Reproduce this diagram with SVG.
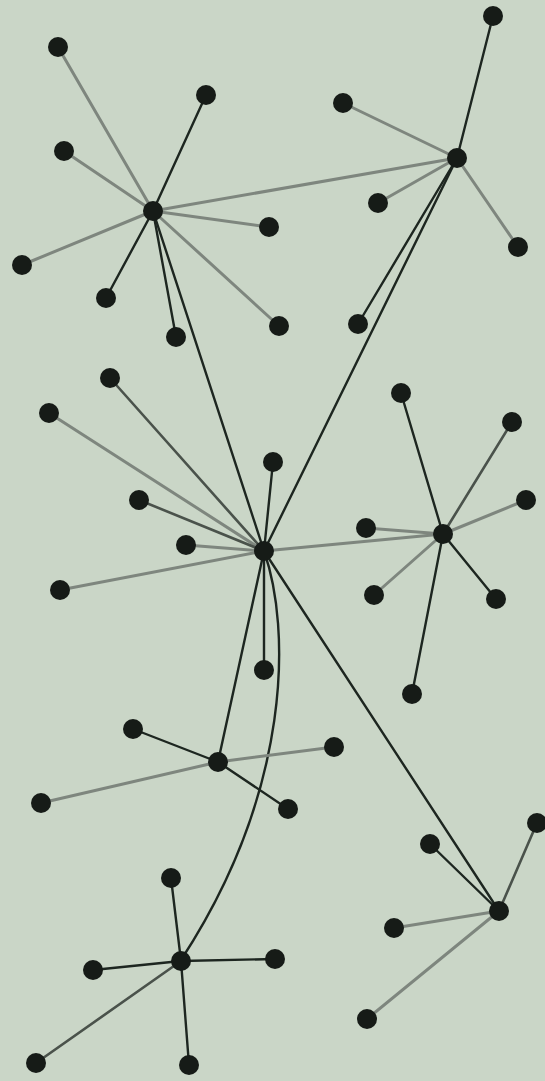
<svg xmlns="http://www.w3.org/2000/svg" width="545" height="1081" viewBox="0 0 545 1081">
<style>
.n{fill:#161b17}
.b{stroke:#1d2620;stroke-width:2.4;fill:none;stroke-linecap:round}
.m{stroke:#4a524b;stroke-width:2.6;fill:none;stroke-linecap:round}
.g{stroke:#7e867e;stroke-width:3;fill:none;stroke-linecap:round}
</style>
<rect width="545" height="1081" fill="#cad6c7"/>
<g id="connectors">
<line class="g" x1="153" y1="211" x2="58" y2="47"/>
<line class="b" x1="153" y1="211" x2="206" y2="95"/>
<line class="g" x1="153" y1="211" x2="64" y2="151"/>
<line class="g" x1="153" y1="211" x2="22" y2="265"/>
<line class="b" x1="153" y1="211" x2="106" y2="298"/>
<line class="b" x1="153" y1="211" x2="176" y2="337"/>
<line class="g" x1="153" y1="211" x2="269" y2="227"/>
<line class="g" x1="153" y1="211" x2="279" y2="326"/>
<line class="g" x1="153" y1="211" x2="457" y2="158"/>
<line class="b" x1="153" y1="211" x2="264" y2="551"/>
<line class="b" x1="457" y1="158" x2="493" y2="16"/>
<line class="g" x1="457" y1="158" x2="343" y2="103"/>
<line class="g" x1="457" y1="158" x2="378" y2="203"/>
<line class="g" x1="457" y1="158" x2="518" y2="247"/>
<line class="b" x1="457" y1="158" x2="358" y2="324"/>
<line class="b" x1="457" y1="158" x2="264" y2="551"/>
<line class="m" x1="264" y1="551" x2="110" y2="378"/>
<line class="g" x1="264" y1="551" x2="49" y2="413"/>
<line class="b" x1="264" y1="551" x2="273" y2="462"/>
<line class="m" x1="264" y1="551" x2="139" y2="500"/>
<line class="g" x1="264" y1="551" x2="186" y2="545"/>
<line class="g" x1="264" y1="551" x2="60" y2="590"/>
<line class="b" x1="264" y1="551" x2="264" y2="670"/>
<line class="g" x1="264" y1="551" x2="443" y2="534"/>
<line class="b" x1="264" y1="551" x2="218" y2="762"/>
<line class="b" x1="264" y1="551" x2="499" y2="911"/>
<path class="b" d="M264 551 C291 628 292 790 181 960"/>
<line class="b" x1="443" y1="534" x2="401" y2="393"/>
<line class="m" x1="443" y1="534" x2="512" y2="422"/>
<line class="g" x1="443" y1="534" x2="526" y2="500"/>
<line class="g" x1="443" y1="534" x2="366" y2="528"/>
<line class="g" x1="443" y1="534" x2="374" y2="595"/>
<line class="b" x1="443" y1="534" x2="496" y2="599"/>
<line class="b" x1="443" y1="534" x2="412" y2="694"/>
<line class="b" x1="218" y1="762" x2="133" y2="729"/>
<line class="g" x1="218" y1="762" x2="334" y2="747"/>
<line class="g" x1="218" y1="762" x2="41" y2="803"/>
<line class="b" x1="218" y1="762" x2="288" y2="809"/>
<line class="b" x1="181" y1="961" x2="171" y2="878"/>
<line class="b" x1="181" y1="961" x2="93" y2="970"/>
<line class="b" x1="181" y1="961" x2="275" y2="959"/>
<line class="m" x1="181" y1="961" x2="36" y2="1063"/>
<line class="b" x1="181" y1="961" x2="189" y2="1065"/>
<line class="b" x1="499" y1="911" x2="430" y2="844"/>
<line class="m" x1="499" y1="911" x2="537" y2="823"/>
<line class="g" x1="499" y1="911" x2="394" y2="928"/>
<line class="g" x1="499" y1="911" x2="367" y2="1019"/>
</g>
<g id="hubA"><circle class="n" cx="153" cy="211" r="10"/></g>
<g id="hubB"><circle class="n" cx="457" cy="158" r="10"/></g>
<g id="hubC"><circle class="n" cx="264" cy="551" r="10"/></g>
<g id="hubD"><circle class="n" cx="443" cy="534" r="10"/></g>
<g id="hubE"><circle class="n" cx="218" cy="762" r="10"/></g>
<g id="hubF"><circle class="n" cx="499" cy="911" r="10"/></g>
<g id="hubG"><circle class="n" cx="181" cy="961" r="10"/></g>
<g id="leavesA">
<circle class="n" cx="58" cy="47" r="10"/>
<circle class="n" cx="206" cy="95" r="10"/>
<circle class="n" cx="64" cy="151" r="10"/>
<circle class="n" cx="22" cy="265" r="10"/>
<circle class="n" cx="106" cy="298" r="10"/>
<circle class="n" cx="176" cy="337" r="10"/>
<circle class="n" cx="269" cy="227" r="10"/>
<circle class="n" cx="279" cy="326" r="10"/>
</g>
<g id="leavesB">
<circle class="n" cx="493" cy="16" r="10"/>
<circle class="n" cx="343" cy="103" r="10"/>
<circle class="n" cx="378" cy="203" r="10"/>
<circle class="n" cx="518" cy="247" r="10"/>
<circle class="n" cx="358" cy="324" r="10"/>
</g>
<g id="leavesC">
<circle class="n" cx="110" cy="378" r="10"/>
<circle class="n" cx="49" cy="413" r="10"/>
<circle class="n" cx="273" cy="462" r="10"/>
<circle class="n" cx="139" cy="500" r="10"/>
<circle class="n" cx="186" cy="545" r="10"/>
<circle class="n" cx="60" cy="590" r="10"/>
<circle class="n" cx="264" cy="670" r="10"/>
</g>
<g id="leavesD">
<circle class="n" cx="401" cy="393" r="10"/>
<circle class="n" cx="512" cy="422" r="10"/>
<circle class="n" cx="526" cy="500" r="10"/>
<circle class="n" cx="366" cy="528" r="10"/>
<circle class="n" cx="374" cy="595" r="10"/>
<circle class="n" cx="496" cy="599" r="10"/>
<circle class="n" cx="412" cy="694" r="10"/>
</g>
<g id="leavesE">
<circle class="n" cx="133" cy="729" r="10"/>
<circle class="n" cx="334" cy="747" r="10"/>
<circle class="n" cx="41" cy="803" r="10"/>
<circle class="n" cx="288" cy="809" r="10"/>
</g>
<g id="leavesG">
<circle class="n" cx="171" cy="878" r="10"/>
<circle class="n" cx="93" cy="970" r="10"/>
<circle class="n" cx="275" cy="959" r="10"/>
<circle class="n" cx="36" cy="1063" r="10"/>
<circle class="n" cx="189" cy="1065" r="10"/>
</g>
<g id="leavesF">
<circle class="n" cx="430" cy="844" r="10"/>
<circle class="n" cx="537" cy="823" r="10"/>
<circle class="n" cx="394" cy="928" r="10"/>
<circle class="n" cx="367" cy="1019" r="10"/>
</g>
</svg>
